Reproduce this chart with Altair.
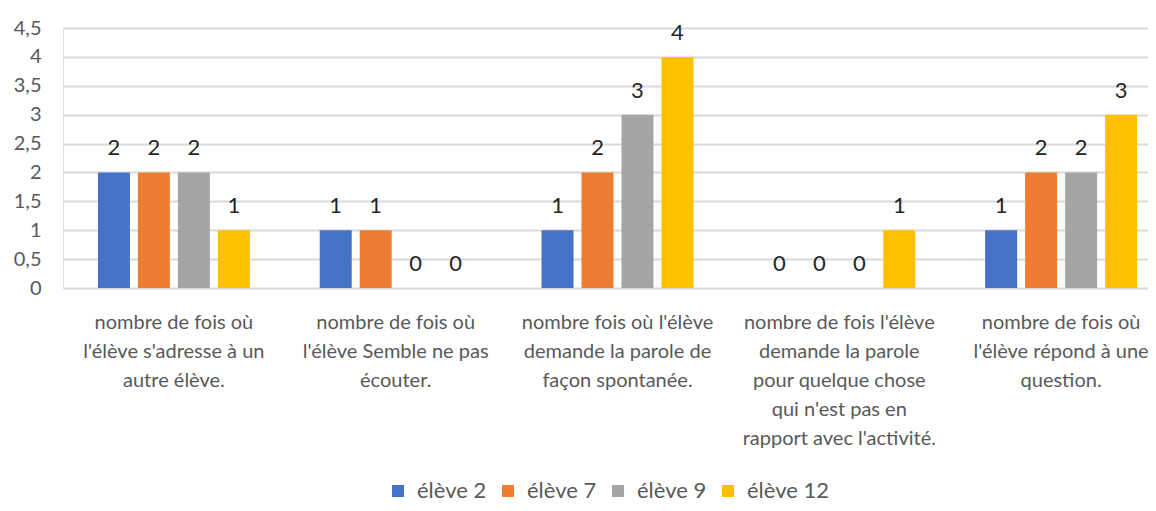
import altair as alt
import pandas as pd

categories = [
    "nombre de fois où\nl'élève s'adresse à un\nautre élève.",
    "nombre de fois où\nl'élève Semble ne pas\nécouter.",
    "nombre fois où l'élève\ndemande la parole de\nfaçon spontanée.",
    "nombre de fois l'élève\ndemande la parole\npour quelque chose\nqui n'est pas en\nrapport avec l'activité.",
    "nombre de fois où\nl'élève répond à une\nquestion.",
]
series = ["élève 2", "élève 7", "élève 9", "élève 12"]
eleve_2 = [2, 1, 1, 0, 1]
eleve_7 = [2, 1, 2, 0, 2]
eleve_9 = [2, 0, 3, 0, 2]
eleve_12 = [1, 0, 4, 1, 3]
colors = ["#4472C4", "#ED7D31", "#A5A5A5", "#FFC000"]
y_ticks = [0, 0.5, 1, 1.5, 2, 2.5, 3, 3.5, 4, 4.5]

rows = []
for s, vals in zip(series, [eleve_2, eleve_7, eleve_9, eleve_12]):
    for c, v in zip(categories, vals):
        rows.append({"categorie": c, "serie": s, "valeur": v})
df = pd.DataFrame(rows)

FONT = "Lato"

base = alt.Chart(df).encode(
    x=alt.X(
        "categorie:N",
        sort=categories,
        scale=alt.Scale(range=[0, 1109], paddingInner=0.315, paddingOuter=0.1575),
        axis=alt.Axis(
            title=None,
            labelExpr="split(datum.value, '\\n')",
            labelAngle=0,
            labelFont=FONT,
            labelFontSize=20,
            labelColor="#595959",
            labelLineHeight=29,
            labelPadding=24,
            labelBaseline="top",
            labelLimit=0,
            labelOverlap=False,
            labelBound=False,
            ticks=False,
            domain=False,
            grid=False,
        ),
    ),
    xOffset=alt.XOffset("serie:N", sort=series, scale=alt.Scale(paddingInner=0.2, paddingOuter=0)),
    y=alt.Y(
        "valeur:Q",
        scale=alt.Scale(domain=[0, 4.5], nice=False),
        axis=alt.Axis(
            title=None,
            values=y_ticks,
            labelExpr="replace(toString(datum.value), '.', ',')",
            labelFont=FONT,
            labelFontSize=20,
            labelColor="#595959",
            labelPadding=22,
            ticks=False,
            domain=False,
            grid=True,
            gridColor="#D9D9D9",
            gridWidth=1.8,
        ),
    ),
)

bars = base.mark_bar().encode(
    color=alt.Color(
        "serie:N",
        sort=series,
        scale=alt.Scale(domain=series, range=colors),
        legend=alt.Legend(
            title=None,
            orient="none",
            direction="horizontal",
            legendX=324,
            legendY=452,
            symbolType="square",
            symbolSize=144,
            symbolStrokeWidth=0,
            labelFont=FONT,
            labelFontSize=22,
            labelColor="#595959",
            labelOffset=8,
            columnPadding=10,
        ),
    )
)

labels = base.mark_text(
    baseline="bottom", dy=-12, font=FONT, fontSize=22, color="#262626"
).encode(text=alt.Text("valeur:Q"))

chart = (
    alt.layer(bars, labels)
    .properties(
        width=1085,
        height=260,
        autosize=alt.AutoSizeParams(type="none"),
        padding={"left": 55, "top": 20, "right": 0, "bottom": 214},
    )
    .configure_view(stroke=None)
    .configure(background="white")
)

chart.save("out.html", embed_options={"renderer": "svg", "actions": False})
